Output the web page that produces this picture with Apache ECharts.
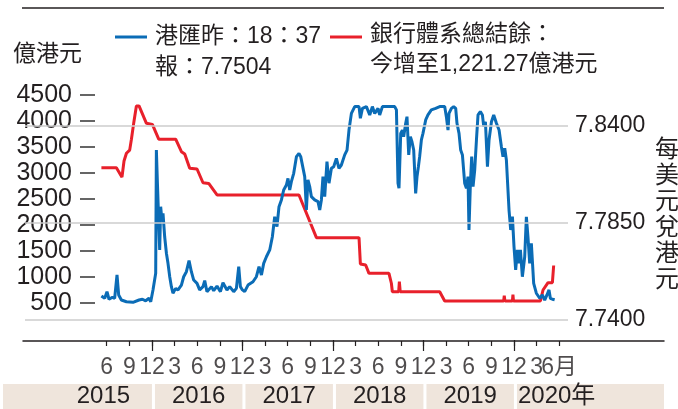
<!DOCTYPE html>
<html>
<head>
<meta charset="utf-8">
<script src="https://cdn.jsdelivr.net/npm/echarts@6/dist/echarts.min.js"></script>
<style>
  html, body { margin: 0; padding: 0; background: #fff; }
  #wrap { position: relative; width: 678px; height: 409px; }
  #chart { position: absolute; left: 0; top: 0; width: 678px; height: 409px; }
  #strip { position: absolute; left: 0; top: 340px; width: 678px; height: 69px; }
</style>
</head>
<body>
<div id="wrap">
  <div id="chart"></div>
  <div id="strip"></div>
</div>
<script>
// ── data (x = months since Jan 2015) ──
var hkdRate = [
  [4.33, 7.7524], [4.77, 7.7512], [5.07, 7.7546], [5.34, 7.7507], [5.79, 7.7517], [6.09, 7.7512],
  [6.4, 7.7632], [6.62, 7.7529], [6.98, 7.7503], [7.65, 7.7494], [8.52, 7.7491], [9.32, 7.7503],
  [9.77, 7.7507], [10.2, 7.7499], [10.64, 7.7512], [10.87, 7.7494], [11.17, 7.7555], [11.53, 7.7641],
  [11.62, 7.8276], [11.76, 7.8105], [11.93, 7.7907], [12.06, 7.7761], [12.19, 7.7984], [12.37, 7.7907],
  [12.5, 7.7950], [12.72, 7.7829], [12.95, 7.7744], [13.16, 7.7692], [13.39, 7.7623], [13.61, 7.7572],
  [13.82, 7.7538], [14.18, 7.7563], [14.49, 7.7555], [14.94, 7.7580], [15.24, 7.7623], [15.6, 7.7649],
  [15.95, 7.7706], [16.26, 7.7649], [16.57, 7.7606], [17.01, 7.7589], [17.36, 7.7555], [17.8, 7.7572],
  [18.03, 7.7603], [18.33, 7.7546], [18.92, 7.7572], [19.22, 7.7551], [19.66, 7.7575], [20.11, 7.7546],
  [20.45, 7.7592], [20.98, 7.7555], [21.34, 7.7572], [21.87, 7.7546], [22.23, 7.7563], [22.54, 7.7675],
  [22.76, 7.7572], [23.03, 7.7555], [23.33, 7.7546], [23.77, 7.7580], [24.43, 7.7597], [24.88, 7.7623],
  [25.23, 7.7675], [25.55, 7.7632], [25.85, 7.7692], [26.21, 7.7726], [26.65, 7.7761], [27.0, 7.7829],
  [27.31, 7.7932], [27.61, 7.7881], [27.88, 7.7984], [28.2, 7.8019], [28.5, 7.8070], [28.86, 7.8096],
  [29.07, 7.8130], [29.3, 7.8070], [29.52, 7.8113], [29.83, 7.8156], [30.19, 7.8242], [30.53, 7.8259],
  [30.76, 7.8242], [30.93, 7.8250], [31.29, 7.8139], [31.51, 7.7967], [31.72, 7.8122], [31.95, 7.8088],
  [32.17, 7.8036], [32.61, 7.8019], [33.05, 7.8010], [33.28, 7.7967], [33.5, 7.8019], [33.71, 7.8139],
  [33.94, 7.8036], [34.24, 7.8216], [34.51, 7.8105], [34.83, 7.8182], [35.13, 7.8190], [35.49, 7.8233],
  [35.83, 7.8182], [36.15, 7.8199], [36.59, 7.8251], [36.9, 7.8276], [37.16, 7.8379], [37.48, 7.8465],
  [37.92, 7.8500], [38.49, 7.8500], [38.67, 7.8440], [38.94, 7.8491], [39.47, 7.8500], [39.91, 7.8457],
  [40.26, 7.8500], [40.57, 7.8465], [41.01, 7.8491], [41.23, 7.8457], [41.59, 7.8500], [42.33, 7.8500],
  [43.22, 7.8500], [43.45, 7.8483], [43.66, 7.8105], [43.79, 7.8079], [44.02, 7.8362], [44.24, 7.8379],
  [44.41, 7.8345], [44.68, 7.8414], [44.85, 7.8448], [45.08, 7.8251], [45.3, 7.8345], [45.51, 7.8319],
  [45.74, 7.8276], [46.0, 7.8053], [46.18, 7.8139], [46.36, 7.8190], [46.53, 7.8242], [46.76, 7.8328],
  [46.97, 7.8362], [47.33, 7.8431], [47.63, 7.8457], [48.08, 7.8483], [48.65, 7.8491], [49.19, 7.8500],
  [49.85, 7.8500], [50.07, 7.8448], [50.29, 7.8379], [50.42, 7.8465], [50.74, 7.8491], [51.04, 7.8500],
  [51.31, 7.8491], [51.48, 7.8414], [51.75, 7.8362], [51.97, 7.8276], [52.2, 7.8251], [52.5, 7.8105],
  [52.73, 7.8079], [52.94, 7.8139], [53.07, 7.7864], [53.26, 7.8105], [53.43, 7.8242], [53.61, 7.8088],
  [53.83, 7.8173], [54.06, 7.8328], [54.27, 7.8457], [54.58, 7.8474], [54.85, 7.8457], [55.03, 7.8397],
  [55.25, 7.8422], [55.52, 7.8190], [55.73, 7.8328], [56.05, 7.8422], [56.35, 7.8457], [56.71, 7.8414],
  [57.06, 7.8379], [57.37, 7.8293], [57.58, 7.8242], [57.81, 7.8285], [58.03, 7.8225], [58.38, 7.7967],
  [58.6, 7.7864], [58.83, 7.7933], [59.04, 7.7778], [59.26, 7.7658], [59.49, 7.7761], [59.7, 7.7692],
  [59.89, 7.7761], [60.15, 7.7623], [60.46, 7.7726], [60.68, 7.7932], [60.89, 7.7829], [61.12, 7.7692],
  [61.34, 7.7795], [61.65, 7.7589], [62.0, 7.7538], [62.45, 7.7512], [62.8, 7.7529], [63.11, 7.7503],
  [63.41, 7.7529], [63.68, 7.7555], [63.86, 7.7512], [64.13, 7.7507], [64.43, 7.7504]
];

var aggBalance = [
  [4.33, 3100], [6.32, 3100], [7.06, 2920], [7.33, 3230], [7.65, 3380], [8.08, 3440],
  [8.31, 3650], [8.61, 3955], [8.97, 4290], [9.32, 4290], [10.3, 3955], [11.09, 3935],
  [11.93, 3650], [14.18, 3650], [14.94, 3410], [15.38, 3365], [16.04, 3090], [17.01, 3077],
  [17.8, 2813], [18.56, 2800], [19.66, 2577], [30.53, 2577], [32.84, 1756], [38.49, 1756],
  [38.67, 1250], [39.37, 1230], [39.81, 1070], [42.46, 1070], [42.78, 880], [42.91, 717],
  [43.75, 717], [43.84, 910], [43.95, 717], [49.19, 717], [49.85, 540], [57.67, 540],
  [57.75, 640], [57.83, 540], [58.83, 540], [58.9, 660], [58.97, 540], [62.54, 540],
  [62.89, 750], [63.55, 890], [64.13, 890], [64.3, 1221]
];

var monthTicks = [5, 8, 11, 14, 17, 20, 23, 26, 29, 32, 35, 38, 41, 44, 47, 50, 53, 56, 59, 62, 65];
var monthLabels = ['6', '9', '12', '3', '6', '9', '12', '3', '6', '9', '12', '3', '6', '9', '12', '3', '6', '9', '12', '3', '6月'];
var yearEndTicks = [11, 23, 35, 47, 59];
var yearNames = ['2015', '2016', '2017', '2018', '2019', '2020年'];
var yearBands = [[-8.75, 11], [11.4, 23], [23.4, 35], [35.4, 47], [47.4, 59], [59.4, 78.9]];
var rateTicks = [7.74, 7.79, 7.84];
var rateTickLabels = ['7.7400', '7.7850', '7.8400'];

var BLUE = '#0b6cb6', RED = '#e8202b', INK = '#231f20', GRID = '#cccccc';
var FONT = '"Liberation Sans", "Noto Sans CJK TC", sans-serif';
var NARROW = '"Liberation Sans Narrow", "Liberation Sans", "Noto Sans CJK TC", sans-serif';

// bottom strip layout (y in px below the month axis line)
var TICK_LONG = 11, LABEL_Y = 28, BAND_TOP = 44, STRIP_H = 69;

// ── main plot ──
var chart = echarts.init(document.getElementById('chart'));
chart.setOption({
  animation: false,
  backgroundColor: '#fff',
  grid: [
    { left: 25, right: 110, top: 126, bottom: 89 },   // HKD rate, right axis
    { left: 25, right: 110, top: 95, bottom: 106 }    // aggregate balance, left axis
  ],
  xAxis: [
    { gridIndex: 0, type: 'value', min: -5.8, max: 66.2, show: false },
    { gridIndex: 1, type: 'value', min: -5.8, max: 66.2, show: false }
  ],
  yAxis: [
    {
      gridIndex: 0, type: 'value', position: 'right', min: 7.74, max: 7.84,
      axisLine: { show: false }, axisTick: { show: false }, splitLine: { show: false },
      axisLabel: {
        customValues: rateTicks, margin: 7, color: INK, fontSize: 23, fontFamily: FONT, padding: [0, 0, 7, 0],
        formatter: function (v) {
          var i = Math.round((v - 7.74) / 0.05);
          return rateTickLabels[i] || '';
        }
      }
    },
    {
      gridIndex: 1, type: 'value', position: 'left', offset: -70,
      min: 500, max: 4500, interval: 500,
      axisLine: { show: false }, splitLine: { show: false },
      axisTick: { show: true, length: 15, lineStyle: { color: '#333', width: 1.5 } },
      axisLabel: { margin: 23, color: INK, fontSize: 25, fontFamily: FONT, formatter: function (v) { return String(v); } }
    }
  ],
  series: [
    {
      // gridlines at the right-axis ticks
      type: 'line', xAxisIndex: 0, yAxisIndex: 0, data: [], z: 1, silent: true,
      markLine: {
        silent: true, symbol: 'none', label: { show: false },
        lineStyle: { color: GRID, width: 1.5, type: 'solid' },
        data: rateTicks.map(function (v) { return { yAxis: v }; })
      }
    },
    {
      type: 'line', xAxisIndex: 1, yAxisIndex: 1, data: aggBalance,
      symbol: 'none', clip: false, z: 3,
      lineStyle: { color: RED, width: 3 }
    },
    {
      type: 'line', xAxisIndex: 0, yAxisIndex: 0, data: hkdRate,
      symbol: 'none', clip: false, z: 4,
      lineStyle: { color: BLUE, width: 3 }
    }
  ],
  graphic: [
    { type: 'line', shape: { x1: 22, y1: 8, x2: 664, y2: 8 }, style: { stroke: INK, lineWidth: 1.5 } },
    { type: 'text', x: 13, y: 55, style: { text: '億港元', font: '23px ' + FONT, fill: INK, textVerticalAlign: 'middle' } },
    // ── legend ──
    { type: 'line', shape: { x1: 115, y1: 37, x2: 147, y2: 37 }, style: { stroke: BLUE, lineWidth: 3 } },
    { type: 'text', x: 155, y: 21, style: { text: '港匯昨：18：37\n報：7.7504', font: '23px ' + FONT, lineHeight: 31, fill: INK } },
    { type: 'line', shape: { x1: 330, y1: 37, x2: 362, y2: 37 }, style: { stroke: RED, lineWidth: 3 } },
    { type: 'text', x: 370, y: 20, style: { text: '銀行體系總結餘：\n今增至1,221.27億港元', font: '23px ' + FONT, lineHeight: 30, fill: INK } },
    // ── right axis title ──
    { type: 'text', x: 667, y: 215, style: { text: '每\n美\n元\n兌\n港\n元', font: '24px ' + FONT, lineHeight: 26, fill: INK, textAlign: 'center', textVerticalAlign: 'middle' } }
  ]
});

// ── bottom strip: month axis + year band (own instance, same month scale) ──
var bandData = yearBands.map(function (b, i) {
  var lab = { show: true, position: 'inside', color: INK, fontSize: 24, fontFamily: FONT };
  if (i === 0) lab.offset = [26, 0];
  if (i === yearBands.length - 1) { lab.position = 'insideLeft'; lab.distance = 1; }
  return [{ xAxis: b[0], yAxis: BAND_TOP, name: yearNames[i], label: lab }, { xAxis: b[1], yAxis: STRIP_H }];
});
var longTicks = yearEndTicks.map(function (t) {
  return [{ coord: [t, 0.01] }, { coord: [t, TICK_LONG] }];
});

var strip = echarts.init(document.getElementById('strip'));
strip.setOption({
  animation: false,
  backgroundColor: 'transparent',
  grid: [
    { left: 23, right: 14, top: 0, bottom: 68 },   // axis line sits at the grid bottom
    { left: 3, right: 14, top: 0, bottom: 0 }
  ],
  xAxis: [
    {
      gridIndex: 0, type: 'value', position: 'bottom', min: -6.1, max: 78.9,
      splitLine: { show: false },
      axisLine: { show: true, onZero: false, lineStyle: { color: INK, width: 1.5 } },
      axisTick: { show: true, length: 5, lineStyle: { color: INK, width: 1.2 }, customValues: monthTicks },
      axisLabel: { show: false }
    },
    { gridIndex: 1, type: 'value', min: -8.75, max: 78.9, show: false }
  ],
  yAxis: [
    { gridIndex: 0, type: 'value', min: 0, max: 1, show: false },
    { gridIndex: 1, type: 'value', min: 0, max: STRIP_H, inverse: true, show: false }
  ],
  series: [
    {
      type: 'line', xAxisIndex: 1, yAxisIndex: 1, data: [[-8.75, STRIP_H]],
      symbol: 'none', lineStyle: { opacity: 0 }, silent: true,
      markLine: {
        silent: true, symbol: 'none', label: { show: false },
        lineStyle: { color: INK, width: 1.2, type: 'solid' },
        data: longTicks
      },
      markArea: { silent: true, itemStyle: { color: '#efe5dc' }, data: bandData }
    },
    {
      // month labels
      type: 'scatter', xAxisIndex: 1, yAxisIndex: 1, silent: true,
      data: monthTicks.map(function (t) { return [t, LABEL_Y]; }),
      symbolSize: 1, itemStyle: { color: 'rgba(0,0,0,0)' },
      label: {
        show: true, position: 'inside', color: INK, fontSize: 23, fontFamily: NARROW,
        formatter: function (p) { return monthLabels[p.dataIndex]; }
      }
    }
  ]
});
</script>
</body>
</html>
